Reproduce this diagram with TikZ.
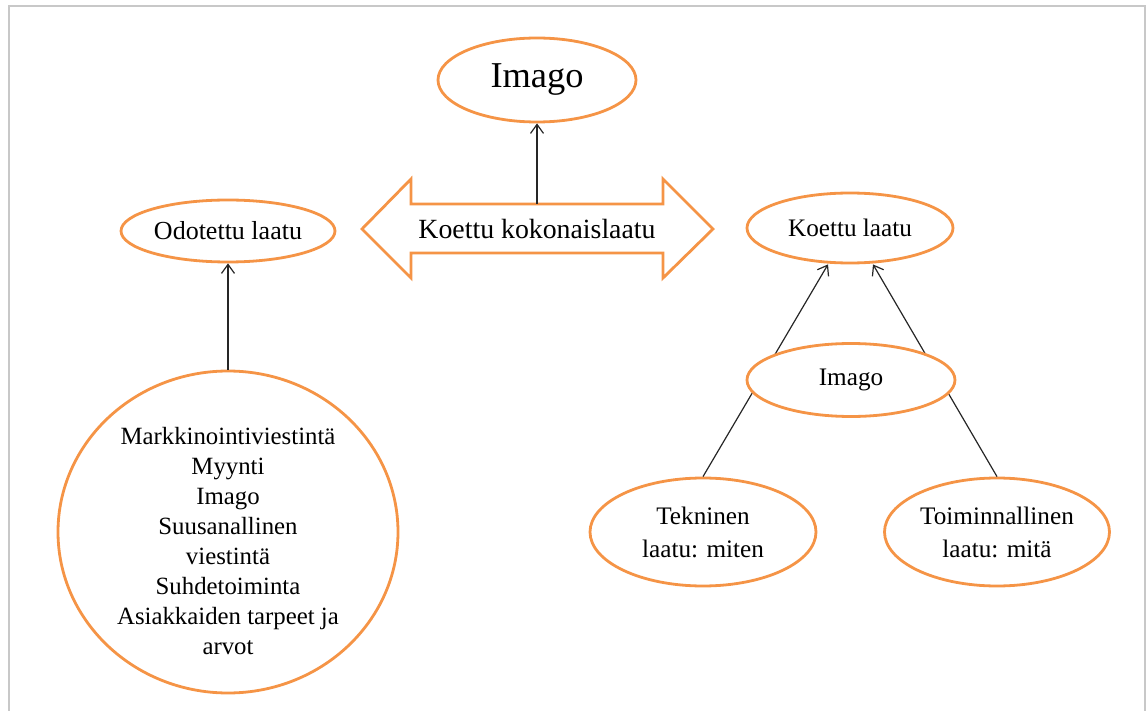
\documentclass[tikz,border=0pt]{standalone}
\usepackage{fontspec}
\setmainfont{Liberation Serif}
\usetikzlibrary{shapes.geometric,arrows.meta}
\definecolor{frameGray}{RGB}{200,200,200}
\definecolor{ovalOrange}{RGB}{245,148,70}
\tikzset{
  oval/.style={ellipse, draw=ovalOrange, line width=1.4pt, fill=white, inner sep=0pt,
    align=center, font=\fontsize{12.6}{16.5}\selectfont},
  link/.style={draw=black!85, line width=0.6pt, -{Straight Barb[length=4.5pt,width=6.5pt]}},
}
\begin{document}
\begin{tikzpicture}[x=0.5pt,y=-0.5pt]
\useasboundingbox (0,0) rectangle (1146,711);
\draw[frameGray, line width=1pt] (9,711) -- (9,6) -- (1145,6) -- (1145,711);
% top
\node[oval, minimum width=99pt, minimum height=42pt, font=\fontsize{18.2}{22}\selectfont] (imagoTop) at (537,80) {Imago};
\draw[ovalOrange, line width=1.4pt, fill=white] (362,229) -- (411,179) -- (411,204) -- (663,204) -- (663,179) -- (713,229)
  -- (663,278) -- (663,253) -- (411,253) -- (411,278) -- cycle;
\node[font=\fontsize{13.9}{16}\selectfont] (kokonais) at (537,229) {Koettu kokonaislaatu};
\coordinate (shaftTop) at (537,204);
\draw[link] (shaftTop) -- (imagoTop);
% left
\node[oval, minimum width=107pt, minimum height=31pt, font=\fontsize{13}{16}\selectfont] (odotettu) at (228,231) {Odotettu laatu};
\node[oval, minimum width=170pt, minimum height=161pt] (tekijat) at (228,532) {};
\node[align=center, inner sep=0pt, font=\fontsize{12.4}{15}\selectfont] (tekijatText) at (228,541)
  {Markkinointiviestintä\\Myynti\\Imago\\Suusanallinen\\viestintä\\Suhdetoiminta\\Asiakkaiden tarpeet ja\\arvot};
\draw[link] (tekijat.north) -- (odotettu.south);
% right
\node[oval, minimum width=103pt, minimum height=35pt] (koettuLaatu) at (850,228) {Koettu laatu};
\node[oval, minimum width=113pt, minimum height=54pt] (tekninen) at (703,532) {Tekninen\\laatu: miten};
\node[oval, minimum width=112.5pt, minimum height=54pt] (toiminnallinen) at (997,532) {Toiminnallinen\\laatu: mitä};
\draw[link] (tekninen.north) -- ([xshift=-11pt]koettuLaatu.south);
\draw[link] (toiminnallinen.north) -- ([xshift=11.5pt]koettuLaatu.south);
\node[oval, minimum width=104pt, minimum height=36.5pt] (imagoSmall) at (851,380) {Imago};
\end{tikzpicture}
\end{document}
